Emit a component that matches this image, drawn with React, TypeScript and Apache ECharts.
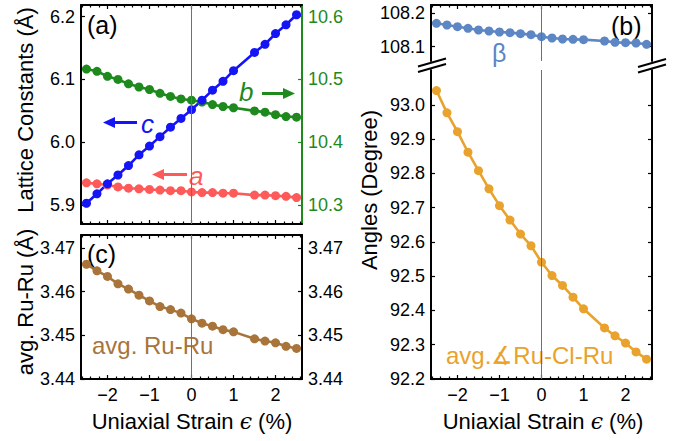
import React, { useEffect, useRef } from "react";
import * as echarts from "echarts";

const strain = [-2.5, -2.25, -2, -1.75, -1.5, -1.25, -1, -0.75, -0.5, -0.25, 0, 0.25, 0.5, 0.75, 1, 1.5, 1.75, 2, 2.25, 2.5];
const latA = [5.9355, 5.934, 5.932, 5.929, 5.927, 5.926, 5.925, 5.924, 5.923, 5.923, 5.921, 5.92, 5.92, 5.919, 5.919, 5.916, 5.916, 5.915, 5.914, 5.912];
const latB = [10.5165, 10.513, 10.505, 10.5, 10.493, 10.488, 10.484, 10.478, 10.473, 10.469, 10.467, 10.464, 10.46, 10.457, 10.455, 10.45, 10.448, 10.444, 10.441, 10.44];
const latC = [5.903, 5.918, 5.934, 5.948, 5.963, 5.98, 5.994, 6.009, 6.024, 6.038, 6.052, 6.067, 6.083, 6.097, 6.114, 6.143, 6.156, 6.173, 6.187, 6.203];
const ruRu = [3.4663, 3.4648, 3.4635, 3.4618, 3.4606, 3.4592, 3.4579, 3.4566, 3.4559, 3.4551, 3.4538, 3.4528, 3.4521, 3.4513, 3.4508, 3.4492, 3.4487, 3.4483, 3.4475, 3.447];
const beta = [108.17, 108.165, 108.16, 108.155, 108.15, 108.147, 108.144, 108.142, 108.139, 108.136, 108.13, 108.126, 108.123, 108.122, 108.121, 108.117, 108.113, 108.112, 108.111, 108.107];
const ruClRu = [93.042, 92.977, 92.922, 92.862, 92.808, 92.755, 92.706, 92.664, 92.623, 92.589, 92.541, 92.502, 92.473, 92.439, 92.405, 92.349, 92.326, 92.305, 92.279, 92.258];

const xMajor = [-2, -1, 0, 1, 2];
const xMinor = [-2.6, -2.4, -2.2, -1.8, -1.6, -1.4, -1.2, -0.8, -0.6, -0.4, -0.2, 0.2, 0.4, 0.6, 0.8, 1.2, 1.4, 1.6, 1.8, 2.2, 2.4, 2.6];
const yTicksA = [5.9, 6.0, 6.1, 6.2];
const yTicksARight = [10.3, 10.4, 10.5, 10.6];
const yTicksC = [3.44, 3.45, 3.46, 3.47];
const yTicksBTop = [108.1, 108.2];
const yTicksBBottom = [92.2, 92.3, 92.4, 92.5, 92.6, 92.7, 92.8, 92.9, 93.0];

const FONT = '"Liberation Sans", Arial, sans-serif';
const BLACK = "#000";
const GREEN = "#1E8A1E";
const BLUE = "#1414F5";
const RED = "#FF5A5A";
const BROWN = "#A8743A";
const ORANGE = "#E9A22B";
const BETA = "#5D86C4";
const TICK_FONT = 18;

const X_MIN = -2.63;
const X_MAX = 2.63;

const fmtX = (v: number) => (v < 0 ? "\u2212" + Math.abs(v) : String(v));

function xAxes(grid: number, opts: { bottom: boolean; top: boolean; labels: boolean }) {
  const res: any[] = [];
  const mk = (pos: string, major: boolean, showLine: boolean, labels: boolean) => ({
    type: "value",
    gridIndex: grid,
    position: pos,
    min: X_MIN,
    max: X_MAX,
    splitLine: { show: false },
    axisLine: { show: showLine, onZero: false, lineStyle: { color: BLACK, width: 2 } },
    axisTick: {
      show: true,
      inside: true,
      length: major ? 4 : 2.5,
      lineStyle: { color: BLACK, width: 1.2 },
      customValues: major ? xMajor : xMinor,
    },
    axisLabel: {
      show: labels,
      customValues: xMajor,
      formatter: fmtX,
      color: BLACK,
      fontFamily: FONT,
      fontSize: TICK_FONT,
      margin: 7,
    },
  });
  if (opts.bottom) {
    res.push(mk("bottom", true, true, opts.labels));
    res.push(mk("bottom", false, false, false));
  }
  if (opts.top) {
    res.push(mk("top", true, true, false));
    res.push(mk("top", false, false, false));
  }
  return res;
}

function yAxis(grid: number, pos: string, min: number, max: number, ticks: number[], labels: boolean, color: string, digits: number) {
  return {
    type: "value",
    gridIndex: grid,
    position: pos,
    min,
    max,
    splitLine: { show: false },
    axisLine: { show: true, onZero: false, lineStyle: { color, width: 2 } },
    axisTick: { show: true, inside: true, length: 4, lineStyle: { color, width: 1.2 }, customValues: ticks },
    axisLabel: {
      show: labels,
      customValues: ticks,
      formatter: (v: number) => v.toFixed(digits),
      color,
      fontFamily: FONT,
      fontSize: TICK_FONT,
      margin: 6,
    },
  };
}

const zeroLine = {
  silent: true,
  symbol: ["none", "none"],
  label: { show: false },
  lineStyle: { color: "#707070", width: 1, type: "solid" },
  data: [{ xAxis: 0 }],
};

function lineSeries(name: string, xi: number, yi: number, values: number[], color: string, mark: boolean) {
  return {
    name,
    type: "line",
    xAxisIndex: xi,
    yAxisIndex: yi,
    data: strain.map((s, i) => [s, values[i]]),
    symbol: "circle",
    symbolSize: 9,
    showSymbol: true,
    lineStyle: { color, width: 2.6 },
    itemStyle: { color },
    markLine: mark ? zeroLine : undefined,
  };
}

function arrow(x1: number, x2: number, y: number, color: string, dir: "left" | "right") {
  const tip = dir === "left" ? x1 : x2;
  const base = dir === "left" ? x1 + 12 : x2 - 12;
  const shaftStart = dir === "left" ? base : x1;
  const shaftEnd = dir === "left" ? x2 : base;
  return [
    { type: "line", shape: { x1: shaftStart, y1: y, x2: shaftEnd, y2: y }, style: { stroke: color, lineWidth: 3 } },
    { type: "polygon", shape: { points: [[tip, y], [base, y - 5.5], [base, y + 5.5]] }, style: { fill: color } },
  ];
}

function txt(x: number, y: number, text: string, color: string, size: number, extra: any = {}) {
  return {
    type: "text",
    x,
    y,
    rotation: extra.rotation || 0,
    style: {
      text,
      fill: color,
      fontFamily: FONT,
      fontSize: size,
      fontStyle: extra.italic ? "italic" : "normal",
      align: extra.align || "left",
      verticalAlign: "middle",
      rich: extra.rich,
    },
  };
}

const epsRich = {
  e: { fontFamily: '"DejaVu Serif", "Liberation Serif", serif', fontStyle: "italic", fontSize: 22, fill: BLACK },
};

export default function App() {
  const ref = useRef<HTMLDivElement>(null);
  useEffect(() => {
    if (!ref.current) return;
    const chart = echarts.init(ref.current, undefined, { renderer: "svg" });

    const grids = [
      { left: 81, top: 5, width: 221, height: 219 },
      { left: 81, top: 235, width: 221, height: 144 },
      { left: 431, top: 5, width: 221, height: 56 },
      { left: 431, top: 70, width: 221, height: 309 },
    ];

    const xA = xAxes(0, { bottom: true, top: true, labels: false });
    const xC = xAxes(1, { bottom: true, top: true, labels: true });
    const xBT = xAxes(2, { bottom: false, top: true, labels: false });
    const xBB = xAxes(3, { bottom: true, top: false, labels: true });

    const yAxes = [
      yAxis(0, "left", 5.870, 6.2185, yTicksA, true, BLACK, 1),
      yAxis(0, "right", 10.270, 10.6185, yTicksARight, true, GREEN, 1),
      yAxis(1, "left", 3.44, 3.473, yTicksC, true, BLACK, 2),
      yAxis(1, "right", 3.44, 3.473, yTicksC, true, BLACK, 2),
      yAxis(2, "left", 108.057, 108.225, yTicksBTop, true, BLACK, 1),
      yAxis(2, "right", 108.057, 108.225, yTicksBTop, false, BLACK, 1),
      yAxis(3, "left", 92.2, 93.102, yTicksBBottom, true, BLACK, 1),
      yAxis(3, "right", 92.2, 93.102, yTicksBBottom, false, BLACK, 1),
    ];

    const graphic: any[] = [
      txt(87, 25, "(a)", BLACK, 25),
      txt(87, 254, "(c)", BLACK, 25),
      txt(611, 26, "(b)", BLACK, 25),
      ...arrow(103, 137, 122.5, BLUE, "left"),
      txt(141, 124, "c", BLUE, 26, { italic: true }),
      ...arrow(152, 187, 174.5, RED, "left"),
      txt(189, 176, "a", RED, 26, { italic: true }),
      txt(239, 92, "b", GREEN, 26, { italic: true }),
      ...arrow(262, 295, 93.5, GREEN, "right"),
      txt(492, 53, "\u03B2", BETA, 25),
      txt(92, 345, "avg. Ru-Ru", BROWN, 24),
      txt(446, 355, "avg.\u2221Ru-Cl-Ru", ORANGE, 24),
      txt(25, 110, "Lattice Constants (\u00C5)", BLACK, 22, { rotation: Math.PI / 2, align: "center" }),
      txt(25, 302, "avg. Ru-Ru (\u00C5)", BLACK, 22, { rotation: Math.PI / 2, align: "center" }),
      txt(369, 190, "Angles (Degree)", BLACK, 22, { rotation: Math.PI / 2, align: "center" }),
      txt(192, 421, "Uniaxial Strain {e|\u03F5} (%)", BLACK, 22, { align: "center", rich: epsRich }),
      txt(543, 421, "Uniaxial Strain {e|\u03F5} (%)", BLACK, 22, { align: "center", rich: epsRich }),
      { type: "line", shape: { x1: 418, y1: 66.5, x2: 446, y2: 58.5 }, style: { stroke: BLACK, lineWidth: 2 } },
      { type: "line", shape: { x1: 418, y1: 72, x2: 446, y2: 64 }, style: { stroke: BLACK, lineWidth: 2 } },
      { type: "line", shape: { x1: 638, y1: 67, x2: 666, y2: 59 }, style: { stroke: BLACK, lineWidth: 2 } },
      { type: "line", shape: { x1: 638, y1: 72.5, x2: 666, y2: 64.5 }, style: { stroke: BLACK, lineWidth: 2 } },
    ];

    chart.setOption({
      animation: false,
      backgroundColor: "#fff",
      grid: grids,
      xAxis: [...xA, ...xC, ...xBT, ...xBB],
      yAxis: yAxes,
      series: [
        lineSeries("a", 0, 0, latA, RED, true),
        lineSeries("b", 0, 1, latB, GREEN, false),
        lineSeries("c", 0, 0, latC, BLUE, false),
        lineSeries("avg. Ru-Ru", 4, 2, ruRu, BROWN, true),
        lineSeries("beta", 8, 4, beta, BETA, true),
        lineSeries("avg. Ru-Cl-Ru", 10, 6, ruClRu, ORANGE, true),
      ],
      graphic,
    });
    return () => chart.dispose();
  }, []);
  return <div ref={ref} style={{ position: "absolute", left: 0, top: 0, width: 688, height: 441 }} />;
}
